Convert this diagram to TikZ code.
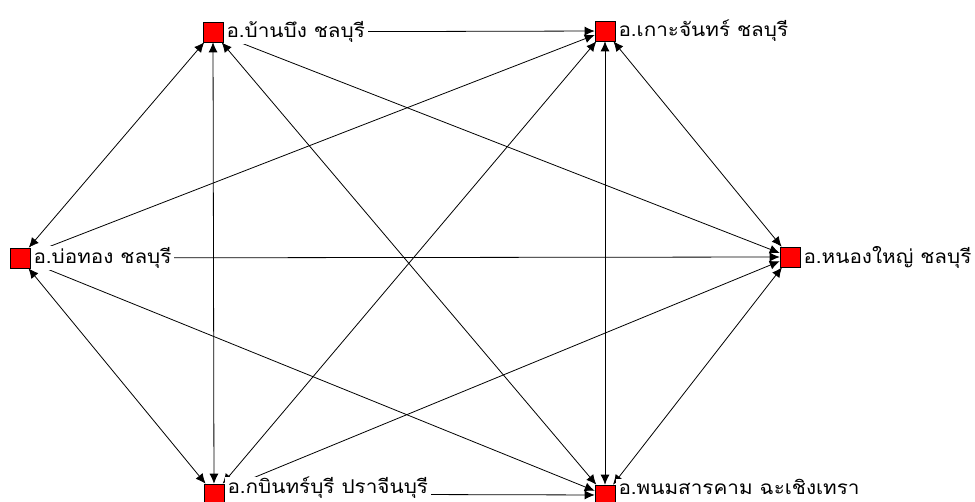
\documentclass[tikz,border=0pt]{standalone}
\usepackage{fontspec}
\newfontfamily\thaifont[Script=Thai,FakeStretch=1.09]{Loma}
\usetikzlibrary{arrows.meta}
\begin{document}
\begin{tikzpicture}[x=1pt,y=-1pt,
  sq/.style={draw=black,fill=red,minimum size=20pt,inner sep=0pt,line width=0.6pt},
  lbl/.style={anchor=west,fill=white,inner xsep=3pt,inner ysep=1pt,font=\thaifont\fontsize{19}{21}\selectfont},
  conn/.style={line width=0.8pt,{Latex[length=10pt,width=9pt]}-{Latex[length=10pt,width=9pt]}}]
\useasboundingbox (0,0) rectangle (975,502);
\clip (0,0) rectangle (975,502);
\node[sq] (A) at (213,32) {};
\node[sq] (B) at (605,31) {};
\node[sq] (C) at (20,258) {};
\node[sq] (D) at (790,257) {};
\node[sq] (E) at (214,494) {};
\node[sq] (F) at (605,495) {};
\foreach \u/\v in {A/B,A/C,A/D,A/E,A/F,B/C,B/D,B/E,B/F,C/D,C/E,C/F,D/E,D/F,E/F}
  \draw[conn] (\u) -- (\v);
\node[lbl] (lA) at (A.east) {อ.บ้านบึง ชลบุรี};
\node[lbl] (lB) at (B.east) {อ.เกาะจันทร์ ชลบุรี};
\node[lbl] (lC) at (C.east) {อ.บ่อทอง ชลบุรี};
\node[lbl] (lD) at (D.east) {อ.หนองใหญ่ ชลบุรี};
\node[lbl,inner ysep=0pt] (lE) at ([yshift=6pt]E.east) {อ.กบินทร์บุรี ปราจีนบุรี};
\node[lbl,inner ysep=0pt] (lF) at ([yshift=8pt]F.east) {อ.พนมสารคาม ฉะเชิงเทรา};
\end{tikzpicture}
\end{document}
